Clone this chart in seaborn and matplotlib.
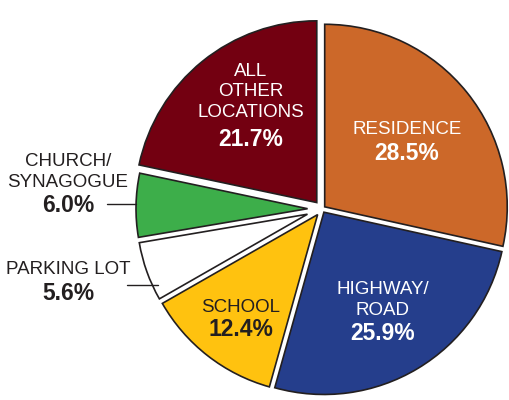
import math
import matplotlib
matplotlib.use("Agg")
import matplotlib.pyplot as plt
import seaborn as sns

sns.set_theme(style="white")
plt.rcParams['font.family'] = ['Liberation Sans', 'DejaVu Sans']

categories = ["RESIDENCE", "HIGHWAY/\nROAD", "SCHOOL", "PARKING LOT", "CHURCH/\nSYNAGOGUE", "ALL\nOTHER\nLOCATIONS"]
values = [28.5, 25.9, 12.4, 5.6, 6.0, 21.7]
pct_labels = ["28.5%", "25.9%", "12.4%", "5.6%", "6.0%", "21.7%"]
colors = ["#CC6829", "#253E8C", "#FFC20F", "#FFFFFF", "#3DAE4A", "#730011"]
text_colors = ["white", "white", "#231F20", "#231F20", "#231F20", "white"]

W, H = 509, 400
fig = plt.figure(figsize=(W / 100, H / 100), dpi=100)
ax = fig.add_axes([0, 0, 1, 1])

cx, cy, r = 322, H - 209, 186
half_gap = 2.7
extra = [0, 0, 0, 0, 0, 4]  # additional outward offset per wedge (style)
total = sum(values)
offsets = [half_gap / math.sin(math.radians(v / total * 180)) for v in values]
explode = [o + e for o, e in zip(offsets, extra)]

wedges, _ = ax.pie(values, colors=colors, startangle=90, counterclock=False,
                   center=(cx, cy), radius=r, explode=explode,
                   wedgeprops=dict(edgecolor="#231F20", linewidth=1.2), frame=True)
for w, o in zip(wedges, offsets):
    w.set_radius(r - o)

ax.set_xlim(0, W)
ax.set_ylim(0, H)
ax.set_aspect("equal")
ax.axis("off")

# label positions (x, name center y, pct center y) in pixel coords (top-origin)
pos = [(407, 130, 153), (383, 300, 334), (241, 308, 330), (68, 270, 293), (68, 172, 206), (251, 92, 139)]
name_fs, pct_fs = 13.5, 16.5
for name, pct, (x, yn, yp), tc in zip(categories, pct_labels, pos, text_colors):
    ax.text(x, H - yn, name, ha="center", va="center", fontsize=name_fs, color=tc,
            linespacing=1.3)
    ax.text(x, H - yp, pct, ha="center", va="center", fontsize=pct_fs, color=tc,
            fontweight="bold")

# leader lines
ax.plot([107, 136], [H - 204, H - 204], color="#231F20", lw=1)
ax.plot([127, 158], [H - 285, H - 285], color="#231F20", lw=1)

fig.savefig("out.png", dpi=100, facecolor="white")
